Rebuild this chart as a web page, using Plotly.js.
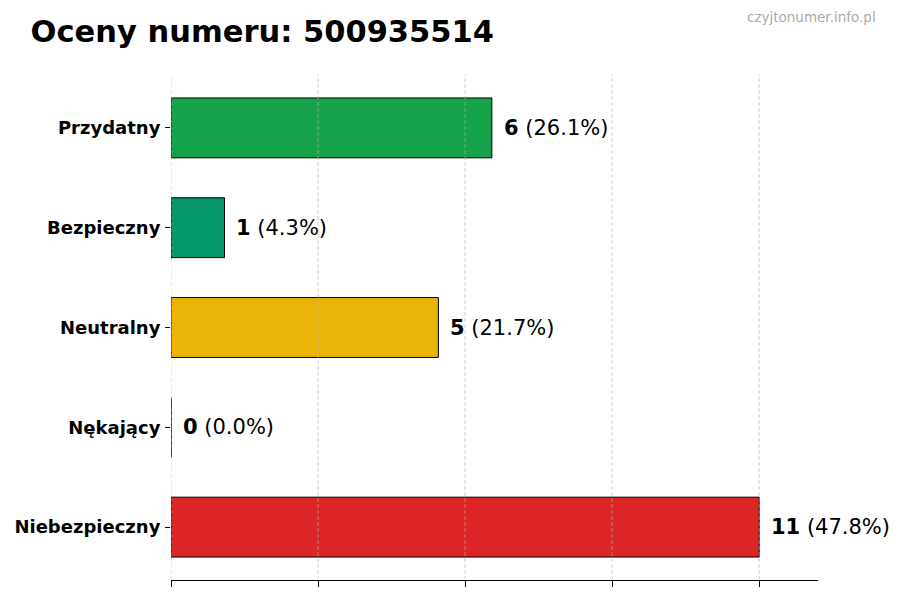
<!DOCTYPE html>
<html>
<head>
<meta charset="utf-8">
<script src="https://cdn.plot.ly/plotly-3.0.1.min.js"></script>
<style>
  body { margin: 0; background: #fff; }
  #chart { width: 900px; height: 600px; }
</style>
</head>
<body>
<div id="chart"></div>
<script>
let categories = ['Przydatny', 'Bezpieczny', 'Neutralny', 'Nękający', 'Niebezpieczny'];
let counts = [6, 1, 5, 0, 11];
let colors = ['#16a34a', '#059669', '#eab308', '#ea580c', '#dc2626'];

let total = counts.reduce((a, b) => a + b, 0);
let maxVal = Math.max(...counts);
let gridVals = [0, 1, 2, 3, 4].map(i => maxVal * i / 4);

let trace = {
  type: 'bar',
  orientation: 'h',
  y: categories,
  x: counts,
  width: 0.6,
  marker: {color: colors, line: {color: '#000', width: 1}},
  hoverinfo: 'none'
};

// value labels next to each bar
let annotations = categories.map((c, i) => ({
  x: counts[i],
  y: c,
  xref: 'x',
  yref: 'y',
  text: '<b>' + counts[i] + '</b> (' + (counts[i] / total * 100).toFixed(1) + '%)',
  showarrow: false,
  xanchor: 'left',
  xshift: 10,
  font: {family: 'DejaVu Sans', size: 21, color: '#000'}
}));

// site watermark, top right
annotations.push({
  x: 1.092, y: 1.115, xref: 'paper', yref: 'paper',
  xanchor: 'right', yanchor: 'middle',
  text: 'czyjtonumer.info.pl',
  showarrow: false,
  font: {family: 'DejaVu Sans', size: 13.5, color: '#aaa'}
});

// dashed gridlines drawn over the bars
let shapes = gridVals.map(v => ({
  type: 'line',
  xref: 'x', yref: 'paper',
  x0: v, x1: v, y0: 0, y1: 1,
  layer: 'above',
  line: {color: 'rgba(180,180,180,0.6)', width: 1, dash: '4px,2px'}
}));

let layout = {
  width: 900,
  height: 600,
  margin: {l: 171, r: 82, t: 75, b: 20},
  paper_bgcolor: '#fff',
  plot_bgcolor: '#fff',
  showlegend: false,
  title: {
    text: '<b>Oceny numeru: 500935514</b>',
    x: 0.034, xanchor: 'left',
    y: 0.948, yanchor: 'middle',
    font: {family: 'DejaVu Sans', size: 30.5, color: '#000'}
  },
  xaxis: {
    range: [0, maxVal * 1.1],
    tickvals: gridVals,
    showticklabels: false,
    ticks: 'outside',
    ticklen: 6,
    tickcolor: '#000',
    showgrid: false,
    zeroline: false,
    showline: true,
    linecolor: '#000',
    linewidth: 1,
    fixedrange: true
  },
  yaxis: {
    autorange: false,
    range: [4.53, -0.53],
    ticks: 'outside',
    ticklen: 5,
    tickcolor: '#000',
    ticklabelstandoff: 1,
    showline: false,
    showgrid: false,
    zeroline: false,
    tickfont: {family: 'DejaVu Sans', size: 18, color: '#000', weight: 'bold'},
    fixedrange: true
  },
  annotations: annotations,
  shapes: shapes
};

Plotly.newPlot('chart', [trace], layout, {displayModeBar: false, staticPlot: true});
</script>
</body>
</html>
